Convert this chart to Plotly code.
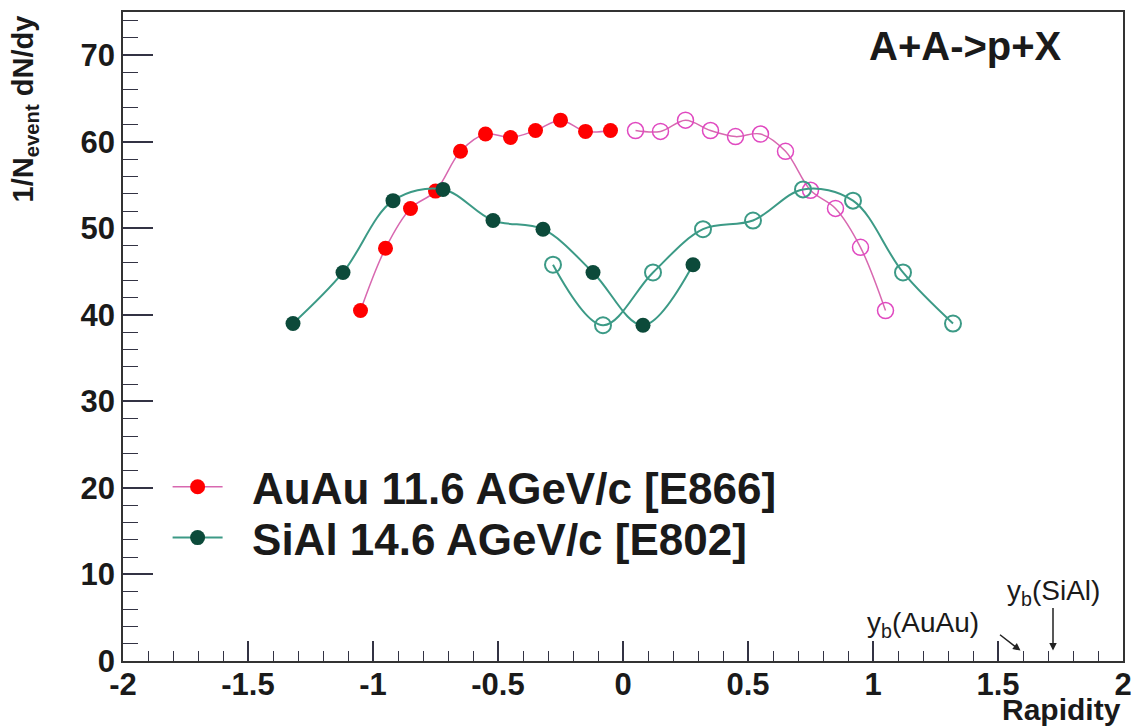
import plotly.graph_objects as go

# ---- data ----
au_x_meas = [-1.05, -0.95, -0.85, -0.75, -0.65, -0.55, -0.45, -0.35, -0.25, -0.15, -0.05]
au_y_meas = [40.5, 47.7, 52.3, 54.3, 58.9, 60.9, 60.5, 61.3, 62.5, 61.2, 61.3]
au_x_refl = [0.05, 0.15, 0.25, 0.35, 0.45, 0.55, 0.65, 0.75, 0.85, 0.95, 1.05]
au_y_refl = [61.3, 61.2, 62.5, 61.3, 60.6, 60.9, 58.9, 54.4, 52.3, 47.8, 40.5]

si_x_meas = [-1.32, -1.12, -0.92, -0.72, -0.52, -0.32, -0.12, 0.08, 0.28]
si_y_meas = [39.0, 44.9, 53.2, 54.5, 50.9, 49.9, 44.9, 38.8, 45.8]
si_x_refl = [-0.28, -0.08, 0.12, 0.32, 0.52, 0.72, 0.92, 1.12, 1.32]
si_y_refl = [45.8, 38.8, 44.9, 49.9, 50.9, 54.5, 53.2, 44.9, 39.0]

series_names = ["AuAu 11.6 AGeV/c [E866]", "SiAl 14.6 AGeV/c [E802]"]
beam_labels = ["y<sub>b</sub>(AuAu)", "y<sub>b</sub>(SiAl)"]
beam_rapidity = [1.59, 1.72]

x_tickvals = [-2, -1.5, -1, -0.5, 0, 0.5, 1, 1.5, 2]
x_ticktext = ["-2", "-1.5", "-1", "-0.5", "0", "0.5", "1", "1.5", "2"]
y_tickvals = [0, 10, 20, 30, 40, 50, 60, 70]

FONT = "Liberation Sans, Arial, Helvetica, sans-serif"
AU_LINE = "#d868b0"
AU_FILL = "#ff0000"
AU_OPEN = "#e048c0"
SI_LINE = "#3c9a86"
SI_FILL = "#0c4a3a"
NB = "\u00a0\u00a0"

fig = go.Figure()

fig.add_trace(go.Scatter(
    x=au_x_meas, y=au_y_meas, mode="lines+markers", name=NB + series_names[0], legend="legend",
    line=dict(color=AU_LINE, width=1.5, shape="spline", smoothing=1),
    marker=dict(color=AU_FILL, size=15, symbol="circle", line=dict(width=0))))
fig.add_trace(go.Scatter(
    x=si_x_meas, y=si_y_meas, mode="lines+markers", name=NB + series_names[1], legend="legend2",
    line=dict(color=SI_LINE, width=2, shape="spline", smoothing=1),
    marker=dict(color=SI_FILL, size=15, symbol="circle", line=dict(width=0))))
fig.add_trace(go.Scatter(
    x=au_x_refl, y=au_y_refl, mode="lines+markers", showlegend=False,
    line=dict(color=AU_LINE, width=1.5, shape="spline", smoothing=1),
    marker=dict(color=AU_OPEN, size=16, symbol="circle-open", line=dict(width=1.5))))
fig.add_trace(go.Scatter(
    x=si_x_refl, y=si_y_refl, mode="lines+markers", showlegend=False,
    line=dict(color=SI_LINE, width=2, shape="spline", smoothing=1),
    marker=dict(color=SI_LINE, size=16, symbol="circle-open", line=dict(width=2))))

axis_common = dict(showline=True, linecolor="#333", linewidth=1.5, mirror=True,
                   showgrid=False, zeroline=False, ticks="inside", tickcolor="#334",
                   tickfont=dict(family=FONT, size=31, color="#1a1a1a", weight="bold"))

fig.update_xaxes(range=[-2, 2], tickmode="array", tickvals=x_tickvals, ticktext=x_ticktext,
                 ticklen=20, tickwidth=1.5, ticklabelstandoff=-5,
                 minor=dict(dtick=0.1, ticks="inside", ticklen=10, tickcolor="#334", tickwidth=1.2),
                 **axis_common)
fig.update_yaxes(range=[0, 75], tickmode="array", tickvals=y_tickvals,
                 ticklen=30, tickwidth=1.5,
                 minor=dict(dtick=2, ticks="inside", ticklen=15, tickcolor="#334", tickwidth=1.2),
                 **axis_common)

annotations = [
    dict(text="<b>A+A->p+X</b>", xref="paper", yref="paper", x=0.842, y=0.948,
         xanchor="center", yanchor="middle", showarrow=False,
         font=dict(family=FONT, size=40, color="#1a1a1a")),
    dict(text="<b>Rapidity</b>", xref="paper", yref="paper", x=1.0, y=-0.075,
         xanchor="right", yanchor="middle", showarrow=False,
         font=dict(family=FONT, size=30, color="#1a1a1a")),
    dict(text="<b>1/N<sub>event</sub> dN/dy</b>", xref="paper", yref="paper", x=-0.098, y=0.997,
         xanchor="center", yanchor="top", textangle=-90, showarrow=False,
         font=dict(family=FONT, size=29, color="#1a1a1a")),
]
# beam rapidity arrows
annotations.append(dict(x=beam_rapidity[0], y=1.2, xref="x", yref="y", text="", showarrow=True,
                        ax=-22, ay=-17, arrowhead=2, arrowsize=1, arrowwidth=1.5, arrowcolor="#222"))
annotations.append(dict(x=1.2, y=4.2, xref="x", yref="y", text=beam_labels[0], showarrow=False,
                        xanchor="center", yanchor="middle",
                        font=dict(family=FONT, size=28, color="#1a1a1a")))
annotations.append(dict(x=beam_rapidity[1], y=1.2, xref="x", yref="y", text="", showarrow=True,
                        ax=0, ay=-44, arrowhead=2, arrowsize=1, arrowwidth=1.5, arrowcolor="#222"))
annotations.append(dict(x=beam_rapidity[1], y=7.9, xref="x", yref="y", text=beam_labels[1], showarrow=False,
                        xanchor="center", yanchor="middle",
                        font=dict(family=FONT, size=28, color="#1a1a1a")))

legend_style = dict(xanchor="left", yanchor="top", bgcolor="rgba(0,0,0,0)", borderwidth=0,
                    font=dict(family=FONT, size=44, color="#1a1a1a", weight="bold"),
                    itemwidth=50)

fig.update_layout(
    width=1142, height=727, autosize=False,
    margin=dict(l=123, r=11, t=10, b=66, pad=0),
    paper_bgcolor="white", plot_bgcolor="white",
    annotations=annotations,
    showlegend=True,
    legend=dict(x=0.0446, y=0.3226, **legend_style),
    legend2=dict(x=0.0446, y=0.2442, **legend_style),
)

fig.write_html("out.html")
